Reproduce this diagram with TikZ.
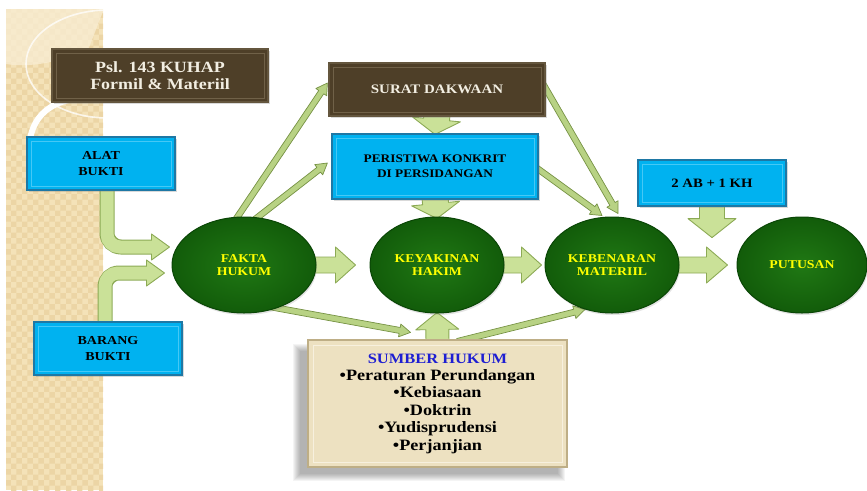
\documentclass[tikz,border=0pt]{standalone}
\usepackage{fontspec}
\setmainfont[FakeStretch=1.15]{Liberation Serif}
\usetikzlibrary{calc,shapes.geometric,shadows,patterns}

\definecolor{panel}{RGB}{244,226,184}
\definecolor{panelchk}{RGB}{236,213,165}
\definecolor{panellite}{RGB}{249,238,212}
\definecolor{cyanfill}{RGB}{0,178,240}
\definecolor{cyanedge}{RGB}{30,120,165}
\definecolor{cyanlite}{RGB}{70,200,245}
\definecolor{brownfill}{RGB}{78,63,40}
\definecolor{brownedge}{RGB}{100,86,62}
\definecolor{brownlite}{RGB}{112,97,72}
\definecolor{browntext}{RGB}{242,238,226}
\definecolor{greenin}{RGB}{32,120,20}
\definecolor{greenout}{RGB}{18,92,10}
\definecolor{greenrim}{RGB}{10,70,6}
\definecolor{arrowfill}{RGB}{202,225,152}
\definecolor{arrowedge}{RGB}{140,170,85}
\definecolor{thinfill}{RGB}{184,210,132}
\definecolor{thinedge}{RGB}{118,146,68}
\definecolor{beigefill}{RGB}{237,225,193}
\definecolor{beigeedge}{RGB}{190,174,134}
\definecolor{beigelite}{RGB}{247,240,222}
\definecolor{titleblue}{RGB}{30,30,210}
\definecolor{lightyellow}{RGB}{255,255,0}

\pgfdeclarelayer{back}
\pgfdeclarelayer{links}
\pgfsetlayers{back,links,main}

% block arrow from #2 to #3: half shaft width #4, half head width #5, head length #6
\newcommand\blockarrow[6][]{%
  \coordinate (bahead) at ($#3!#6!#2$);
  \draw[#1] ($#2!#4!90:#3$) -- ($(bahead)!#4!90:#3$) -- ($(bahead)!#5!90:#3$) -- #3
    -- ($(bahead)!#5!-90:#3$) -- ($(bahead)!#4!-90:#3$) -- ($#2!#4!-90:#3$) -- cycle;}

\begin{document}
\begin{tikzpicture}[x=1pt,y=-1pt,
  bigarrow/.style={fill=arrowfill, draw=arrowedge, line width=0.9pt, line join=round},
  thinarrow/.style={fill=thinfill, draw=thinedge, line width=0.7pt, line join=round},
  box/.style={rectangle, align=center, inner sep=0pt},
  cyanbox/.style={box, fill=cyanfill, draw=cyanedge, line width=1.2pt, text=black,
    drop shadow={opacity=0.3, shadow xshift=1.5pt, shadow yshift=-1.5pt},
    path picture={\draw[cyanlite, line width=0.8pt]
      ([xshift=4pt,yshift=-4pt]path picture bounding box.north west) rectangle
      ([xshift=-4pt,yshift=4pt]path picture bounding box.south east);}},
  brownbox/.style={box, fill=brownfill, draw=brownedge, line width=1.2pt, text=browntext,
    drop shadow={opacity=0.3, shadow xshift=1.5pt, shadow yshift=-1.5pt},
    path picture={\draw[brownlite, line width=0.8pt]
      ([xshift=4pt,yshift=-4pt]path picture bounding box.north west) rectangle
      ([xshift=-4pt,yshift=4pt]path picture bounding box.south east);}},
  beigebox/.style={box, fill=beigefill, draw=beigeedge, line width=1.2pt, text=black,
    path picture={\draw[beigelite, line width=1pt]
      ([xshift=5pt,yshift=-5pt]path picture bounding box.north west) rectangle
      ([xshift=-5pt,yshift=5pt]path picture bounding box.south east);}},
  oval/.style={ellipse, inner sep=0pt, shade, inner color=greenin, outer color=greenout,
    draw=greenrim, line width=1pt,
    text=lightyellow, align=center, minimum height=96pt,
    font=\bfseries\fontsize{12}{13.5}\selectfont,
    drop shadow={opacity=0.22, shadow xshift=1pt, shadow yshift=-2pt}}]

\useasboundingbox (0,0) rectangle (867,490);

% decorative side panel
\begin{pgfonlayer}{back}
  \fill[panel] (6,9) rectangle (103,490);
  \fill[pattern=checkerboard, pattern color=panelchk] (6,9) rectangle (103,490);
  \begin{scope}
    \clip (6,9) rectangle (103,490);
    \fill[panellite, opacity=0.75] (6,9) -- (6,64) .. controls (30,68) and (60,62) .. (88,50)
      .. controls (96,30) and (100,18) .. (103,12) -- (103,9) -- cycle;
    \draw[white, opacity=0.75, line width=1.6pt] (108,64) ellipse [x radius=82, y radius=54];
    \draw[white, line width=6pt] (104,99) .. controls (62,94) and (30,108) .. (29,150);
  \end{scope}
\end{pgfonlayer}

% boxes
\node[brownbox, minimum width=216pt, minimum height=53pt,
  font=\bfseries\fontsize{15.6}{17}\selectfont] (psl) at (160,75.5)
  {Psl. 143 KUHAP\\Formil \& Materiil};
\node[cyanbox, minimum width=148pt, minimum height=53pt,
  font=\bfseries\fontsize{12.2}{16}\selectfont] (alat) at (101,163.5) {ALAT\\BUKTI};
\node[cyanbox, minimum width=148pt, minimum height=53pt,
  font=\bfseries\fontsize{12.2}{16}\selectfont] (barang) at (108,348.5) {BARANG\\BUKTI};
\node[brownbox, minimum width=216pt, minimum height=53pt,
  font=\bfseries\fontsize{13}{16}\selectfont] (surat) at (437,89.5) {SURAT DAKWAAN};
\node[cyanbox, minimum width=206pt, minimum height=65pt,
  font=\bfseries\fontsize{11.6}{15}\selectfont] (peristiwa) at (435,166.5)
  {PERISTIWA KONKRIT\\DI PERSIDANGAN};
\node[cyanbox, minimum width=148pt, minimum height=46pt,
  font=\bfseries\fontsize{12.8}{16}\selectfont] (ab) at (712,183) {2 AB + 1 KH};
\node[beigebox, minimum width=259pt, minimum height=127pt,
  font=\bfseries\fontsize{15.8}{17.4}\selectfont] (sumber) at (437.5,403.5)
  {{\fontsize{14.3}{17.4}\selectfont\color{titleblue}SUMBER HUKUM}\\
   •Peraturan Perundangan\\•Kebiasaan\\•Doktrin\\•Yudisprudensi\\•Perjanjian};

% ovals
\node[oval, minimum width=144pt] (fakta) at (244,265) {FAKTA\\HUKUM};
\node[oval, minimum width=134pt] (keyakinan) at (437,265) {KEYAKINAN\\HAKIM};
\node[oval, minimum width=134pt] (kebenaran) at (612,265) {KEBENARAN\\MATERIIL};
\node[oval, minimum width=130pt] (putusan) at (802,265) {PUTUSAN};

\begin{pgfonlayer}{links}
  % soft shadow under the sources box
  \foreach \k in {0,...,7}
    \fill[black, opacity=0.045] ($(sumber.north west)+(-14+\k,5+\k)$)
      rectangle ($(sumber.south east)+(-3-\k,13-\k)$);

  % bent arrows from the evidence boxes
  \coordinate (al-s) at ($(alat.south)+(6,-2)$);
  \coordinate (al-tip) at ($(fakta.west)+(-2,-18)$);
  \coordinate (al-hb) at ($(al-tip)+(-18,0)$);
  \coordinate (bb-s) at ($(barang.north)+(-3,2)$);
  \coordinate (bb-tip) at ($(fakta.west)+(-7,8)$);
  \coordinate (bb-hb) at ($(bb-tip)+(-18,0)$);
  \foreach \s/\t/\h in {al-s/al-tip/al-hb, bb-s/bb-tip/bb-hb}{
    \draw[arrowedge, line width=15pt, rounded corners=14pt] (\s) -- (\s |- \t) -- (\h);
    \draw[bigarrow] ($(\h)+(0,-13)$) -- (\t) -- ($(\h)+(0,13)$) -- cycle;
    \draw[arrowfill, line width=13pt, rounded corners=13pt] (\s) -- (\s |- \t) -- ($(\h)+(2,0)$);
  }

  % main chain
  \coordinate (fk-e) at ($(fakta.east)+(-8,0)$);
  \coordinate (ky-w) at ($(keyakinan.west)+(-14,0)$);
  \coordinate (ky-e) at ($(keyakinan.east)+(-4,0)$);
  \coordinate (kb-w) at ($(kebenaran.west)+(-3,0)$);
  \coordinate (kb-e) at ($(kebenaran.east)+(-4,0)$);
  \coordinate (pt-w) at ($(putusan.west)+(-9,0)$);
  \blockarrow[bigarrow]{(fk-e)}{(ky-w)}{8pt}{18pt}{20pt}
  \blockarrow[bigarrow]{(ky-e)}{(kb-w)}{8pt}{18pt}{20pt}
  \blockarrow[bigarrow]{(kb-e)}{(pt-w)}{8pt}{18pt}{21pt}

  % vertical arrows
  \coordinate (sd-s) at ($(surat.south)+(0,-2)$);
  \coordinate (pk-n) at ($(peristiwa.north)+(0,1)$);
  \coordinate (pk-s) at ($(peristiwa.south)+(0,-2)$);
  \coordinate (ky-n) at ($(keyakinan.north)+(0,2)$);
  \coordinate (ab-s) at ($(ab.south)+(0,-2)$);
  \coordinate (ab-tip) at ($(ab.south)+(0,31)$);
  \coordinate (sh-n) at ($(sumber.north)+(0,2)$);
  \coordinate (ky-s) at ($(keyakinan.south)+(0,-1)$);
  \blockarrow[bigarrow]{(sd-s)}{(pk-n)}{13pt}{24pt}{15pt}
  \blockarrow[bigarrow]{(pk-s)}{(ky-n)}{13pt}{24pt}{15pt}
  \blockarrow[bigarrow]{(ab-s)}{(ab-tip)}{12.5pt}{24pt}{19pt}
  \blockarrow[bigarrow]{(sh-n)}{(ky-s)}{11.5pt}{21.5pt}{17pt}

  % slender arrows
  \coordinate (fk-a) at ($(fakta.100)+(0,3)$);
  \coordinate (sd-w) at ($(surat.west)+(-1,-6.5)$);
  \coordinate (fk-b) at ($(fakta.78)+(0,3)$);
  \coordinate (pk-w) at ($(peristiwa.west)+(-4,-3.5)$);
  \coordinate (sd-e) at ($(surat.east)+(-4,-8)$);
  \coordinate (kb-n1) at ($(kebenaran.north)+(6,-3)$);
  \coordinate (pk-e) at ($(peristiwa.east)+(-4,0)$);
  \coordinate (kb-n2) at ($(kebenaran.north)+(-10,-1)$);
  \coordinate (fk-c) at ($(fakta.-58)+(-2,-3)$);
  \coordinate (sh-a) at ($(sumber.north)+(-27,-7)$);
  \coordinate (sh-b) at ($(sumber.north)+(20,2)$);
  \coordinate (kb-s) at ($(kebenaran.south)+(-27,-4)$);
  \blockarrow[thinarrow]{(fk-a)}{(sd-w)}{3pt}{6.5pt}{11pt}
  \blockarrow[thinarrow]{(fk-b)}{(pk-w)}{3pt}{6.5pt}{11pt}
  \blockarrow[thinarrow]{(sd-e)}{(kb-n1)}{3pt}{6.5pt}{11pt}
  \blockarrow[thinarrow]{(pk-e)}{(kb-n2)}{3pt}{6.5pt}{11pt}
  \blockarrow[thinarrow]{(fk-c)}{(sh-a)}{3pt}{6.5pt}{11pt}
  \blockarrow[thinarrow]{(sh-b)}{(kb-s)}{3pt}{6.5pt}{11pt}
\end{pgfonlayer}
\end{tikzpicture}
\end{document}
